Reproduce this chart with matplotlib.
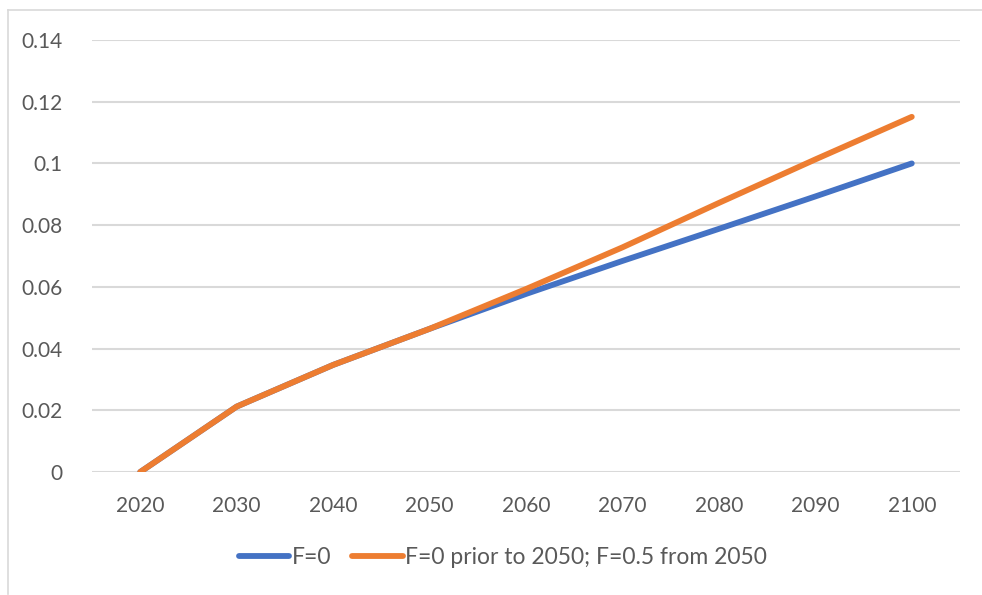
import matplotlib
matplotlib.use("Agg")
import matplotlib.pyplot as plt
from matplotlib.lines import Line2D

years = ["2020", "2030", "2040", "2050", "2060", "2070", "2080", "2090", "2100"]
f0 = [0.0, 0.0212, 0.0347, 0.0464, 0.0577, 0.0684, 0.0788, 0.0893, 0.1000]
f05_from_2050 = [0.0, 0.0212, 0.0347, 0.0464, 0.0593, 0.0728, 0.0872, 0.1013, 0.1151]
yticks = [0, 0.02, 0.04, 0.06, 0.08, 0.1, 0.12, 0.14]
ytick_labels = ["0", "0.02", "0.04", "0.06", "0.08", "0.1", "0.12", "0.14"]

plt.rcParams["font.family"] = ["Lato", "DejaVu Sans"]

fig = plt.figure(figsize=(9.82, 5.95), dpi=100)
ax = fig.add_axes([92 / 982, 1 - 472 / 595, (960 - 92) / 982, (472 - 40) / 595])

x = list(range(len(years)))
ax.plot(x, f0, color="#4472C4", lw=4.2, solid_capstyle="round",
        solid_joinstyle="round", label="F=0", zorder=3)
ax.plot(x, f05_from_2050, color="#ED7D31", lw=4.2, solid_capstyle="round",
        solid_joinstyle="round", label="F=0 prior to 2050; F=0.5 from 2050", zorder=4)

ax.set_xlim(-0.5, len(years) - 0.5)
ax.set_ylim(0, 0.14)
ax.set_xticks(x)
ax.set_xticklabels(years)
ax.set_yticks(yticks)
ax.set_yticklabels(ytick_labels)
ax.tick_params(axis="both", length=0, labelsize=15, labelcolor="#595959")
ax.tick_params(axis="x", pad=17)
ax.tick_params(axis="y", pad=21)
ax.grid(axis="y", color="#D9D9D9", lw=1.5)
ax.set_axisbelow(True)
for s in ax.spines.values():
    s.set_visible(False)

fig.legend(loc="center", bbox_to_anchor=(503 / 982, 1 - 558 / 595), ncol=2,
           frameon=False, fontsize=16.5, labelcolor="#595959",
           handlelength=2.2, handletextpad=0.12, columnspacing=0.9)

# outer chart frame (top and left edges)
fig.add_artist(Line2D([8 / 982, 8 / 982], [1 - 594 / 595, 1 - 9.5 / 595],
                      transform=fig.transFigure, color="#D9D9D9", lw=1.2))
fig.add_artist(Line2D([8 / 982, 1.0], [1 - 9.5 / 595, 1 - 9.5 / 595],
                      transform=fig.transFigure, color="#D9D9D9", lw=1.2))

fig.savefig("out.png", dpi=100, facecolor="white")
